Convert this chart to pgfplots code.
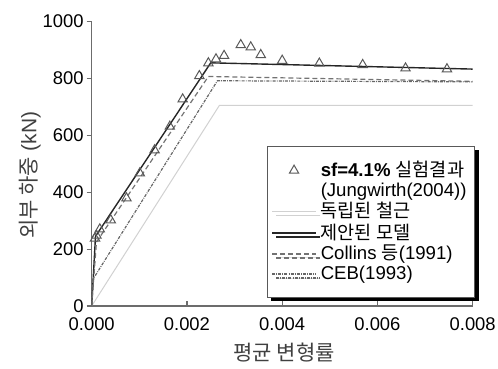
\documentclass[border=0pt]{standalone}
\usepackage{fontspec}
\setmainfont{Liberation Sans}
\newfontfamily\kr{Noto Sans CJK KR}
\usepackage{pgfplots}
\pgfplotsset{compat=1.18}
\usetikzlibrary{shadows}
\begin{document}
\begin{tikzpicture}
\useasboundingbox (-45.85pt,-31.5pt) rectangle (203.15pt,153pt);
\begin{axis}[
  scale only axis, width=190.5pt, height=142.2pt,
  xmin=0, xmax=0.008, ymin=0, ymax=1000,
  axis lines=left, axis line style={-, draw=gray!85!black, line width=0.8pt},
  xtick={0,0.002,0.004,0.006,0.008},
  xticklabels={0.000,0.002,0.004,0.006,0.008},
  ytick={0,200,400,600,800,1000},
  yticklabels={0,200,400,600,800,1000},
  scaled x ticks=false,
  /pgf/number format/assume math mode=true,
  tick align=inside, major tick length=2.5pt,
  tick style={draw=gray!85!black, line width=0.6pt},
  ytick style={xshift=-2.5pt},
  ticklabel style={font=\fontsize{9.2}{10}\selectfont},
  xticklabel style={yshift=-2.5pt},
  yticklabel style={xshift=-0.5pt},
  xlabel={\kr 평균 변형률},
  ylabel={{\kr 외부 하중} (kN)},
  label style={font=\fontsize{10.5}{12}\selectfont, text=black!75},
  xlabel style={at={(axis description cs:0.505,-0.162)}, anchor=center},
  ylabel style={at={(axis description cs:-0.162,0.46)}, anchor=center},
  legend style={at={(axis description cs:0.46,0.563)}, anchor=north west,
    draw=gray!70!black, fill=white, line width=0.4pt,
    font=\fontsize{9.3}{10.9}\selectfont,
    general shadow={fill=black, shadow xshift=2pt, shadow yshift=-2pt},
    inner xsep=2pt, inner ysep=5.5pt, row sep=-2.5pt},
  legend cell align=left,
  legend image code/.code={\draw[mark repeat=2,mark phase=2,#1] plot coordinates {(0pt,0pt)(11pt,0pt)(22pt,0pt)};},
]
\addplot[only marks, mark=triangle, mark size=2.7pt, mark options={draw=black!65, line width=0.5pt, fill=none}] coordinates {
(0.00007,238)(0.0001,248)(0.00017,270)(0.0004,302)(0.00073,379)(0.00101,467)
(0.00132,548)(0.00164,631)(0.00191,727)(0.00226,809)(0.00245,854)(0.00261,868)
(0.00278,880)(0.00313,918)(0.00334,910)(0.00355,883)(0.0040,863)(0.00478,853)
(0.00569,848)(0.00659,836)(0.00746,833)};
\addlegendentry{\textbf{sf=4.1\%} {\kr 실험결과}}
\addlegendimage{empty legend}
\addlegendentry{(Jungwirth(2004))}
\addplot[draw=black!18, line width=0.5pt] coordinates {(0,0)(0.00268,705)(0.008,705)};
\addlegendentry{{\kr 독립된 철근}}
\addplot[draw=black!85, line width=0.7pt] coordinates {(0,0)(0.00008,245)(0.0025,855)(0.008,833)};
\addlegendentry{{\kr 제안된 모델}}
\addplot[draw=black!55, line width=0.6pt, dash pattern=on 2.5pt off 1.5pt] coordinates {(0,0)(0.0001,225)(0.00245,807)(0.008,790)};
\addlegendentry{Collins {\kr 등}(1991)}
\addplot[draw=black!60, line width=0.6pt, dash pattern=on 1.5pt off 0.6pt on 0.4pt off 0.6pt] coordinates {(0,0)(0.00003,95)(0.00264,792)(0.008,788)};
\addlegendentry{CEB(1993)}
\end{axis}
\end{tikzpicture}
\end{document}
